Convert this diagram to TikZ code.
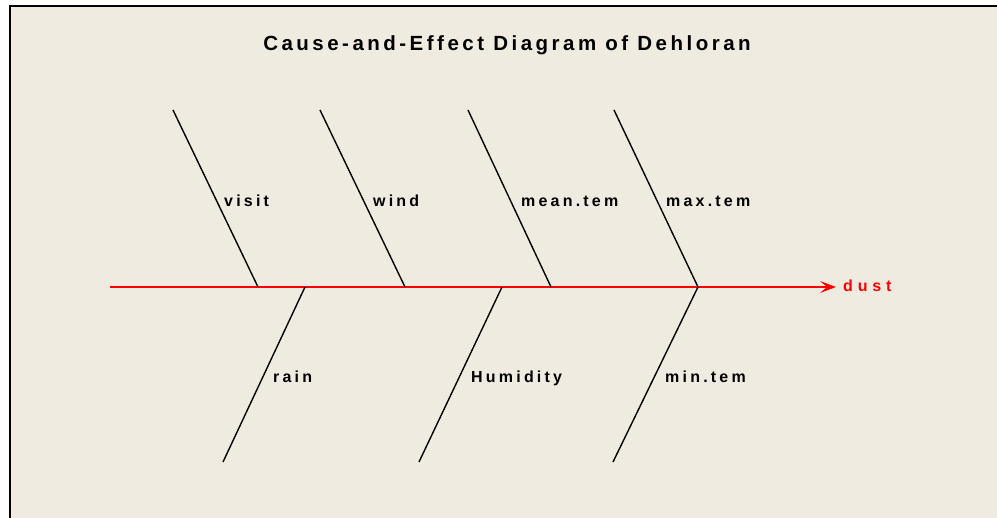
\documentclass[tikz,border=0pt]{standalone}
\usepackage{fontspec}
\setmainfont{Liberation Sans}
\newfontfamily\titlefont[LetterSpace=17]{Liberation Sans Bold}
\newfontfamily\labelfont[LetterSpace=20]{Liberation Sans Bold}
\newfontfamily\effectfont[LetterSpace=30]{Liberation Sans Bold}
\usetikzlibrary{arrows.meta}
\definecolor{paper}{HTML}{EFEBE1}
\tikzset{
  bone/.style={draw=black, line width=1.4pt},
  spine/.style={draw=red, line width=1.8pt, -{Stealth[length=16pt,width=12pt,inset=7pt]}},
  lbl/.style={anchor=base west, inner sep=0pt, font=\labelfont\fontsize{16}{18}\selectfont, text=black},
}
\begin{document}
\begin{tikzpicture}[x=1pt,y=-1pt]
\useasboundingbox (0,0) rectangle (997,518);
\fill[white] (0,0) rectangle (997,518);
\fill[paper] (10,7) rectangle (997,518);
\draw[line width=2pt] (997,6.5) -- (10,6.5) -- (10,518);
\node[anchor=base, inner sep=0pt, font=\titlefont\fontsize{20.5}{23}\selectfont] (title) at (507,51) {Cause-and-Effect Diagram of Dehloran};
% spine
\coordinate (s0) at (110,287);
\coordinate (head) at (836,287);
\draw[spine] (s0) -- (head);
\node[anchor=base west, inner sep=0pt, font=\effectfont\fontsize{16}{18}\selectfont, text=red] (dust) at (843,292) {dust};
% upper bones
\coordinate (v1) at (173,110); \coordinate (v2) at (258,287);
\coordinate (w1) at (320,110); \coordinate (w2) at (405,287);
\coordinate (m1) at (468,110); \coordinate (m2) at (551,287);
\coordinate (x1) at (614,110); \coordinate (x2) at (698,287);
\draw[bone] (v1) -- (v2);
\draw[bone] (w1) -- (w2);
\draw[bone] (m1) -- (m2);
\draw[bone] (x1) -- (x2);
% lower bones
\coordinate (r1) at (223,462); \coordinate (r2) at (305,287);
\coordinate (h1) at (419,462); \coordinate (h2) at (502,287);
\coordinate (n1) at (613,462); \coordinate (n2) at (698,287);
\draw[bone] (r1) -- (r2);
\draw[bone] (h1) -- (h2);
\draw[bone] (n1) -- (n2);
% labels
\node[lbl] (lvisit) at (224,207) {visit};
\node[lbl] (lwind) at (373,207) {wind};
\node[lbl] (lmean) at (521,207) {mean.tem};
\node[lbl] (lmax) at (666,207) {max.tem};
\node[lbl] (lrain) at (273,383) {rain};
\node[lbl] (lhum) at (471,383) {Humidity};
\node[lbl] (lmin) at (665,383) {min.tem};
\end{tikzpicture}
\end{document}
